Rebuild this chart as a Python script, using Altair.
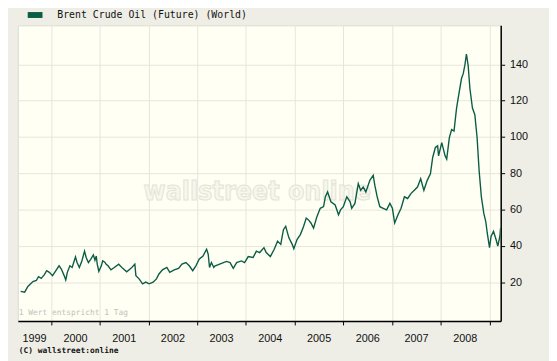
import altair as alt
import pandas as pd

SERIES = "Brent Crude Oil (Future) (World)"

dates = [
    "1999-05-18", "1999-06-17", "1999-07-11", "1999-08-18", "1999-09-12", "1999-09-29", "1999-10-19",
    "1999-11-12", "1999-11-29", "1999-12-19",
    "2000-01-12", "2000-02-06", "2000-03-01", "2000-03-18", "2000-04-08", "2000-04-20", "2000-05-02",
    "2000-05-21", "2000-06-07", "2000-07-02", "2000-07-14", "2000-07-31", "2000-08-19", "2000-09-08",
    "2000-09-20", "2000-10-07", "2000-10-24", "2000-11-13", "2000-11-25", "2000-12-05", "2000-12-12",
    "2000-12-24",
    "2001-01-12", "2001-01-22", "2001-02-07", "2001-02-17", "2001-03-03", "2001-03-25", "2001-04-19",
    "2001-05-22", "2001-06-21", "2001-07-21", "2001-08-22", "2001-09-20", "2001-09-28", "2001-10-22",
    "2001-11-17", "2001-12-11",
    "2002-01-05", "2002-02-04", "2002-03-01", "2002-03-20", "2002-04-15", "2002-05-18", "2002-06-09",
    "2002-07-12", "2002-08-14", "2002-09-08", "2002-10-08", "2002-11-02", "2002-11-28", "2002-12-22",
    "2003-01-15", "2003-02-13", "2003-03-12", "2003-03-24", "2003-04-03", "2003-04-17", "2003-05-05",
    "2003-05-12", "2003-08-08", "2003-09-04", "2003-09-28", "2003-10-23", "2003-11-28", "2003-12-22",
    "2004-01-18", "2004-02-24", "2004-03-19", "2004-04-13", "2004-05-15", "2004-06-01", "2004-07-02",
    "2004-07-31", "2004-08-25", "2004-09-18", "2004-10-08", "2004-10-25", "2004-11-18", "2004-12-13",
    "2004-12-25",
    "2005-01-18", "2005-02-12", "2005-03-08", "2005-03-28", "2005-04-14", "2005-05-02", "2005-05-22",
    "2005-06-16", "2005-07-11", "2005-08-05", "2005-08-18", "2005-09-04", "2005-09-29", "2005-10-31",
    "2005-11-25", "2005-12-10", "2005-12-31",
    "2006-01-26", "2006-02-20", "2006-03-04", "2006-03-28", "2006-04-22", "2006-05-10", "2006-05-29",
    "2006-06-18", "2006-07-18", "2006-08-12", "2006-08-24", "2006-09-11", "2006-10-01", "2006-10-26",
    "2006-11-21", "2006-12-15",
    "2007-01-03", "2007-01-20", "2007-02-14", "2007-03-09", "2007-04-03", "2007-04-27", "2007-05-22",
    "2007-06-16", "2007-07-10", "2007-08-03", "2007-08-27", "2007-09-21", "2007-10-15", "2007-11-01",
    "2007-11-21", "2007-12-08", "2007-12-15",
    "2008-01-08", "2008-02-02", "2008-02-14", "2008-03-05", "2008-03-22", "2008-04-09", "2008-04-28",
    "2008-05-18", "2008-06-04", "2008-06-17", "2008-06-29", "2008-07-11", "2008-07-24", "2008-08-06",
    "2008-08-25", "2008-09-12", "2008-09-29", "2008-10-14", "2008-10-31", "2008-11-18", "2008-12-03",
    "2008-12-14", "2008-12-31",
    "2009-01-12", "2009-01-30", "2009-02-18", "2009-03-03", "2009-03-19", "2009-03-24",
]

prices = [
    14.9, 14.5, 17.6, 20.3, 20.9, 23.0, 22.1,
    24.1, 26.3, 25.4,
    23.6, 26.3, 29.0, 27.2, 23.6, 21.2, 25.4,
    29.0, 28.1, 33.9, 30.8, 28.1, 31.7, 37.1,
    33.6, 30.8, 32.6, 35.0, 32.1, 34.4, 29.9,
    26.0,
    29.0, 31.7, 31.0, 29.9, 29.0, 26.8, 28.1,
    29.9, 27.6, 25.7, 27.6, 29.9, 23.6, 21.8,
    19.1, 20.0,
    19.1, 20.0, 21.8, 24.5, 26.8, 28.1, 25.4,
    26.8, 27.6, 29.9, 30.8, 29.0, 26.3, 29.0,
    32.6, 34.4, 38.1, 35.4, 28.1, 30.8, 28.1,
    28.8, 31.4, 30.8, 27.6, 30.8, 31.7, 30.8,
    34.1, 33.6, 37.1, 36.3, 39.0, 36.3, 34.1,
    38.1, 42.6, 40.8, 48.9, 50.7, 44.4, 40.8,
    38.4,
    43.5, 46.2, 50.7, 55.3, 54.3, 52.6, 49.8,
    56.1, 60.7, 61.6, 67.0, 69.7, 64.3, 62.5,
    57.1, 59.8, 61.6,
    67.0, 64.3, 60.7, 63.4, 74.3, 70.6, 72.4,
    69.7, 76.1, 78.8, 73.4, 67.0, 61.6, 60.7,
    59.8, 63.4,
    60.7, 52.6, 57.1, 60.7, 67.0, 66.1, 68.8,
    70.6, 72.4, 77.0, 70.6, 76.1, 79.7, 88.7,
    94.2, 95.1, 89.6,
    96.9, 89.6, 87.8, 99.6, 104.1, 103.2, 115.9,
    124.9, 132.2, 134.9, 139.4, 145.7, 139.4, 126.7,
    115.9, 112.3, 99.6, 81.5, 67.0, 58.0, 53.4,
    47.1, 39.0,
    45.3, 48.0, 43.5, 39.9, 45.3, 49.8,
]

years = [1999, 2000, 2001, 2002, 2003, 2004, 2005, 2006, 2007, 2008]
y_ticks = [20, 40, 60, 80, 100, 120, 140]
x_start = "1999-04-27"
x_end = "2009-03-25"
y_min, y_max = -1.4, 161.5

GREEN = "#0b5c45"
W, H = 490, 300

df = pd.DataFrame({"date": pd.to_datetime(dates), "price": prices, "series": SERIES})

# year labels centred on the visible part of each year
xs, xe = pd.Timestamp(x_start), pd.Timestamp(x_end)
mids = []
for y in years:
    a = max(pd.Timestamp(f"{y}-01-01"), xs)
    b = min(pd.Timestamp(f"{y + 1}-01-01"), xe)
    mids.append(a + (b - a) / 2)
year_df = pd.DataFrame({"mid": mids, "label": [str(y) for y in years]})
tick_dates = [pd.Timestamp(f"{y}-01-01") for y in years[1:]] + [pd.Timestamp(f"{years[-1] + 1}-01-01")]

x_scale = alt.Scale(domain=[x_start, x_end], nice=False)

watermark = alt.Chart(pd.DataFrame({"t": ["wallstreet online"]})).mark_text(
    font="Liberation Sans Narrow, DejaVu Sans Condensed, sans-serif", fontSize=27, fontWeight="bold",
    color="#f7f7ec", stroke="#e4e4d8", strokeWidth=1, align="center", baseline="middle",
).encode(text="t:N", x=alt.value(243), y=alt.value(169))

line = alt.Chart(df).mark_line(strokeWidth=1.4, clip=True).encode(
    x=alt.X("date:T", scale=x_scale,
            axis=alt.Axis(values=[d.isoformat() for d in tick_dates], labels=False, title=None,
                          grid=True, gridColor="#e6e6dc", tickSize=4, tickColor="#000",
                          domainColor="#000", domainWidth=1.5)),
    y=alt.Y("price:Q", scale=alt.Scale(domain=[y_min, y_max], nice=False, zero=False),
            axis=alt.Axis(orient="right", values=y_ticks, title=None, grid=True,
                          gridColor="#e6e6dc", tickSize=4, tickColor="#000",
                          domainColor="#000", domainWidth=1.5, labelPadding=5,
                          labelFont="Liberation Sans", labelFontSize=11, labelColor="#111")),
    color=alt.Color("series:N", scale=alt.Scale(range=[GREEN]),
                    legend=alt.Legend(orient="none", legendX=10, legendY=-18, title=None,
                                      symbolType="M-1,-0.4L1,-0.4L1,0.4L-1,0.4Z", symbolSize=225,
                                      symbolFillColor=GREEN, symbolStrokeWidth=0, symbolOpacity=1,
                                      labelFont="DejaVu Sans Mono", labelFontSize=10,
                                      labelColor="#111", labelOffset=15, labelLimit=400, padding=0)),
)

year_labels = alt.Chart(year_df).mark_text(
    font="Liberation Sans", fontSize=11, color="#111", baseline="middle", align="center",
).encode(x=alt.X("mid:T", scale=x_scale), y=alt.value(H + 18), text="label:N")

note = alt.Chart(pd.DataFrame({"t": ["1 Wert entspricht 1 Tag"]})).mark_text(
    font="DejaVu Sans Mono", fontSize=8, color="#c2c2b8", align="left", baseline="middle",
).encode(text="t:N", x=alt.value(1), y=alt.value(H - 8))

copy = alt.Chart(pd.DataFrame({"t": ["(C) wallstreet:online"]})).mark_text(
    font="DejaVu Sans Mono", fontSize=8, fontWeight="bold", color="#111", align="left",
    baseline="middle",
).encode(text="t:N", x=alt.value(1), y=alt.value(H + 30))

chart = alt.layer(watermark, line, year_labels, note, copy).properties(
    width=W, height=H,
    autosize=alt.AutoSizeParams(type="none"),
    padding={"left": 10, "top": 15, "right": 49, "bottom": 38},
    background="#eeeee6",
).configure_view(fill="#fffff4", stroke="#dcdcd2")

chart.save("out.html", embed_options={"renderer": "svg", "actions": False})
